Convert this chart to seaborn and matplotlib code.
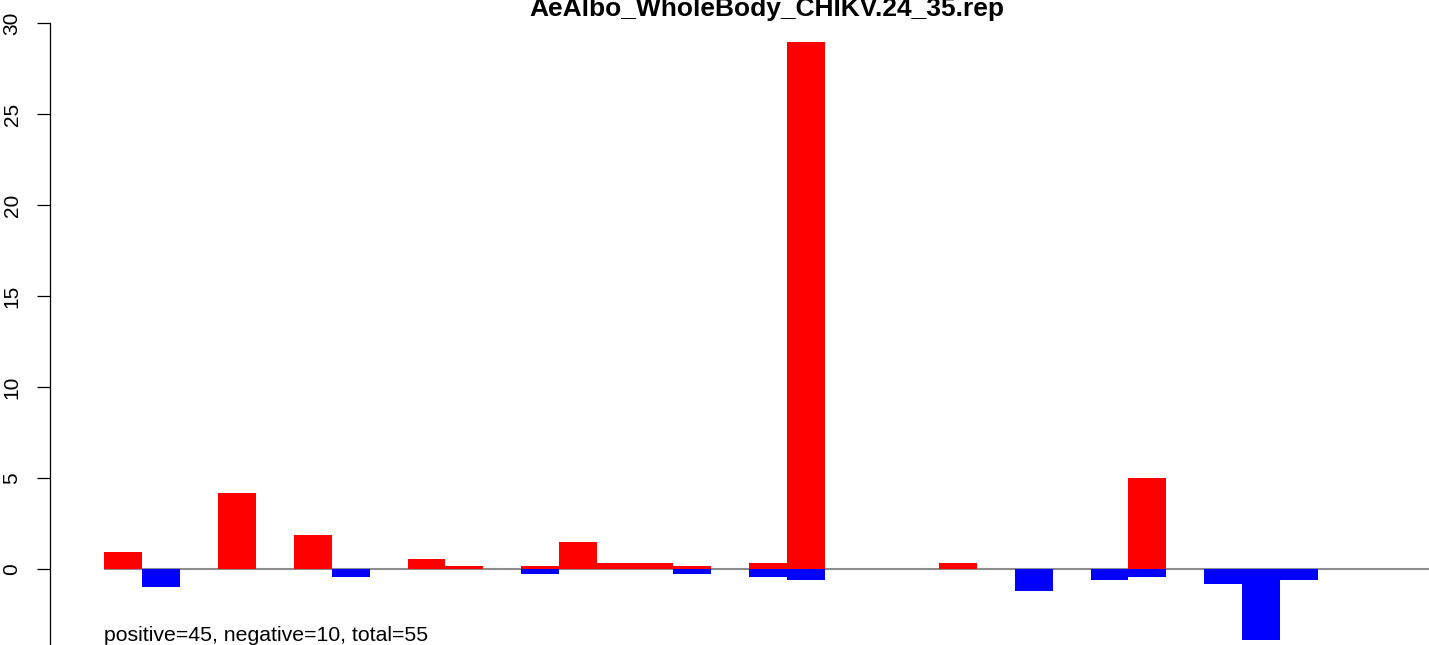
#!/usr/bin/env python3
"""
Positive / negative bar chart for AeAlbo_WholeBody_CHIKV.24_35.rep
"""

import numpy as np
import pandas as pd
import matplotlib
matplotlib.use("Agg")
import matplotlib.pyplot as plt
import seaborn as sns

# data (one slot per bar position)
slots = list(range(36))
positive = [0.98, 0, 0, 4.2, 0, 1.9, 0, 0, 0.58, 0.19,
            0, 0.19, 1.5, 0.38, 0.38, 0.19, 0, 0.38, 29.0, 0,
            0, 0, 0.38, 0, 0, 0, 0, 5.0, 0, 0,
            0, 0, 0, 0, 0, 0]
negative = [0, -0.95, 0, 0, 0, 0, -0.41, 0, 0, 0,
            0, -0.25, 0, 0, 0, -0.25, 0, -0.41, -0.58, 0,
            0, 0, 0, 0, -1.18, 0, -0.58, -0.41, 0, -0.8,
            -3.85, -0.58, 0, 0, 0, 0]
yticks = [0, 5, 10, 15, 20, 25, 30]
title = "AeAlbo_WholeBody_CHIKV.24_35.rep"
note = "positive=45, negative=10, total=55"

df = pd.DataFrame({"slot": slots, "positive": positive, "negative": negative})

sns.set_theme(style="ticks")
plt.rcParams["font.family"] = ["Liberation Sans", "DejaVu Sans"]
plt.rcParams["text.color"] = "black"
plt.rcParams["ytick.color"] = "black"

W, H = 1429, 645
fig = plt.figure(figsize=(W / 100, H / 100), dpi=100)
# plot region runs past the right and bottom edges, like the cropped source image
ax = fig.add_axes([50 / W, 0, (1484 - 50) / W, 1])

ax.hlines(0, -0.5, len(slots) - 0.5, color="#8c8c8c", lw=1.5, zorder=1)
sns.barplot(data=df, x="slot", y="positive", color="#ff0000", width=1.0,
            saturation=1, linewidth=0, ax=ax, zorder=2)
sns.barplot(data=df, x="slot", y="negative", color="#0000ff", width=1.0,
            saturation=1, linewidth=0, ax=ax, zorder=2)

ax.set_xlim(-1.923, 35.87)
ax.set_ylim(-4.15, 31.29)
ax.set_xlabel("")
ax.set_ylabel("")
ax.set_xticks([])
ax.set_yticks(yticks)
ax.set_yticklabels([str(t) for t in yticks], rotation=90, va="center", fontsize=15)
ax.tick_params(axis="y", direction="out", length=9.5, width=0.9, pad=11, colors="black")

for side in ["top", "right", "bottom"]:
    ax.spines[side].set_visible(False)
ax.spines["left"].set_bounds(-10, 30)
ax.spines["left"].set_linewidth(0.9)
ax.spines["left"].set_color("black")

fig.text(767 / W, 1 - 16 / H, title, ha="center", va="baseline",
         fontsize=19, fontweight="bold", color="black")
fig.text(104 / W, 1 - 641 / H, note, ha="left", va="baseline", fontsize=15.3,
         color="black")

fig.savefig("out.png", dpi=100)
plt.close(fig)
